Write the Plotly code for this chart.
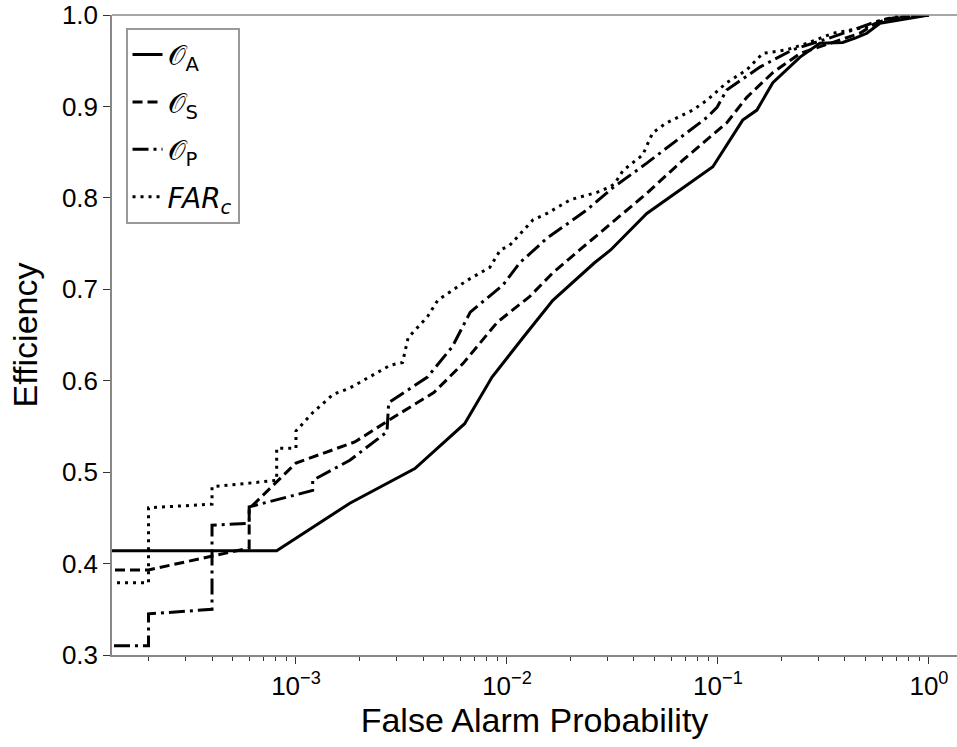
import plotly.graph_objects as go

# curves (false alarm probability, efficiency)
oa_x = [1e-4, 8.1e-4, 1.8e-3, 3.66e-3, 6.3e-3, 8.5e-3, 0.0119, 0.0165, 0.026, 0.031, 0.046,
        0.0946, 0.131, 0.153, 0.182, 0.245, 0.304, 0.39, 0.45, 0.508, 0.586, 1.0]
oa_y = [0.414, 0.414, 0.466, 0.504, 0.553, 0.604, 0.647, 0.688, 0.729, 0.743, 0.783,
        0.834, 0.885, 0.896, 0.926, 0.954, 0.969, 0.970, 0.975, 0.980, 0.991, 1.0]

os_x = [1e-4, 2.0e-4, 6.0e-4, 6.0e-4, 1.0e-3, 1.9e-3, 2.9e-3, 4.5e-3, 6.2e-3, 9.0e-3, 0.0128,
        0.0165, 0.0229, 0.031, 0.046, 0.068, 0.110, 0.137, 0.182, 0.245, 0.35, 0.47, 0.6, 0.85]
os_y = [0.393, 0.393, 0.417, 0.460, 0.510, 0.533, 0.560, 0.587, 0.619, 0.664, 0.692,
        0.718, 0.746, 0.772, 0.805, 0.841, 0.882, 0.910, 0.937, 0.958, 0.970, 0.980, 0.995, 1.0]

op_x = [1e-4, 2.0e-4, 2.0e-4, 4.0e-4, 4.0e-4, 6.0e-4, 6.0e-4, 1.2e-3, 1.2e-3, 1.8e-3, 2.7e-3,
        2.75e-3, 4.2e-3, 5.5e-3, 6.7e-3, 9.6e-3, 0.0115, 0.0155, 0.020, 0.024, 0.0317, 0.046,
        0.0887, 0.099, 0.11, 0.158, 0.226, 0.35, 0.6, 1.0]
op_y = [0.310, 0.310, 0.345, 0.350, 0.442, 0.444, 0.462, 0.480, 0.491, 0.513, 0.544,
        0.576, 0.604, 0.637, 0.675, 0.705, 0.729, 0.756, 0.774, 0.787, 0.811, 0.838,
        0.888, 0.899, 0.918, 0.943, 0.962, 0.976, 0.995, 1.0]

far_x = [1e-4, 2.0e-4, 2.0e-4, 4.0e-4, 4.0e-4, 8.1e-4, 8.1e-4, 1.0e-3, 1.0e-3, 1.2e-3, 1.5e-3,
         1.8e-3, 2.8e-3, 3.2e-3, 3.4e-3, 4.2e-3, 4.7e-3, 6.5e-3, 8.3e-3, 9.3e-3, 0.0103, 0.0133,
         0.0155, 0.020, 0.0267, 0.0308, 0.0325, 0.0355, 0.044, 0.049, 0.057, 0.076, 0.089, 0.11,
         0.137, 0.163, 0.212, 0.264, 0.35, 0.508, 0.675, 1.0]
far_y = [0.379, 0.379, 0.461, 0.465, 0.484, 0.491, 0.526, 0.526, 0.545, 0.565, 0.585,
         0.592, 0.617, 0.620, 0.647, 0.670, 0.688, 0.710, 0.724, 0.743, 0.748, 0.776,
         0.783, 0.798, 0.806, 0.812, 0.816, 0.830, 0.847, 0.871, 0.882, 0.896, 0.907, 0.926,
         0.940, 0.958, 0.962, 0.969, 0.980, 0.987, 0.998, 1.0]

x_ticks = [1e-3, 1e-2, 1e-1, 1.0]
x_ticktext = ["10<sup>\u22123</sup>", "10<sup>\u22122</sup>", "10<sup>\u22121</sup>", "10<sup>0</sup>"]
y_ticks = [0.3, 0.4, 0.5, 0.6, 0.7, 0.8, 0.9, 1.0]

series = [
  ("\U0001D4AA<sub>A</sub>", oa_x, oa_y, "solid"),
  ("\U0001D4AA<sub>S</sub>", os_x, os_y, "10px,5px"),
  ("\U0001D4AA<sub>P</sub>", op_x, op_y, "16px,5px,3px,5px"),
  ("<i>FAR<sub>c</sub></i>", far_x, far_y, "3px,5px"),
]

fig = go.Figure()
for name, xs, ys, dash in series:
  fig.add_trace(go.Scatter(
    x=xs, y=ys, name=name, mode="lines", legendgroup=name,
    line=dict(color="black", width=3, dash=dash)
  ))

minor_vals = [m * 10 ** e for e in range(-4, 1) for m in range(2, 10)]

fig.update_layout(
  width=957,
  height=747,
  paper_bgcolor="white",
  plot_bgcolor="white",
  font=dict(family="Liberation Sans, Arial, sans-serif", size=26, color="black"),
  margin=dict(l=112, r=0, t=15, b=92, autoexpand=False),
  legend=dict(
    x=0.016, y=0.98, xanchor="left", yanchor="top",
    bgcolor="white", bordercolor="#999999", borderwidth=2,
    font=dict(size=28, family="DejaVu Sans, Liberation Sans, sans-serif"),
    tracegroupgap=8
  ),
  xaxis=dict(
    type="log",
    range=[-3.872, 0.133],
    automargin=False,
    tickvals=x_ticks,
    ticktext=x_ticktext,
    ticks="outside",
    ticklen=7,
    tickcolor="#333333",
    showline=True,
    linecolor="#888888",
    linewidth=1.5,
    showgrid=False,
    zeroline=False,
    minor=dict(ticks="outside", ticklen=4, tickcolor="#333333", tickvals=minor_vals, showgrid=False),
    title=dict(text="False Alarm Probability", font=dict(size=34), standoff=6),
  ),
  yaxis=dict(
    range=[0.3, 1.0],
    automargin=False,
    tickvals=y_ticks,
    tickformat=".1f",
    ticks="outside",
    ticklen=7,
    tickcolor="#333333",
    showline=True,
    linecolor="#888888",
    linewidth=1.5,
    showgrid=False,
    zeroline=False,
    title=dict(text="Efficiency", font=dict(size=34), standoff=14),
  ),
  shapes=[dict(type="line", xref="paper", yref="paper", x0=0, x1=1, y0=1, y1=1,
               line=dict(color="#888888", width=1.5))],
)

# page body has a default 8px margin; drop it so the figure sits at the window corner
fig.write_html(
  "out.html",
  config={"displayModeBar": False},
  post_script="document.body.style.margin='0';"
)
